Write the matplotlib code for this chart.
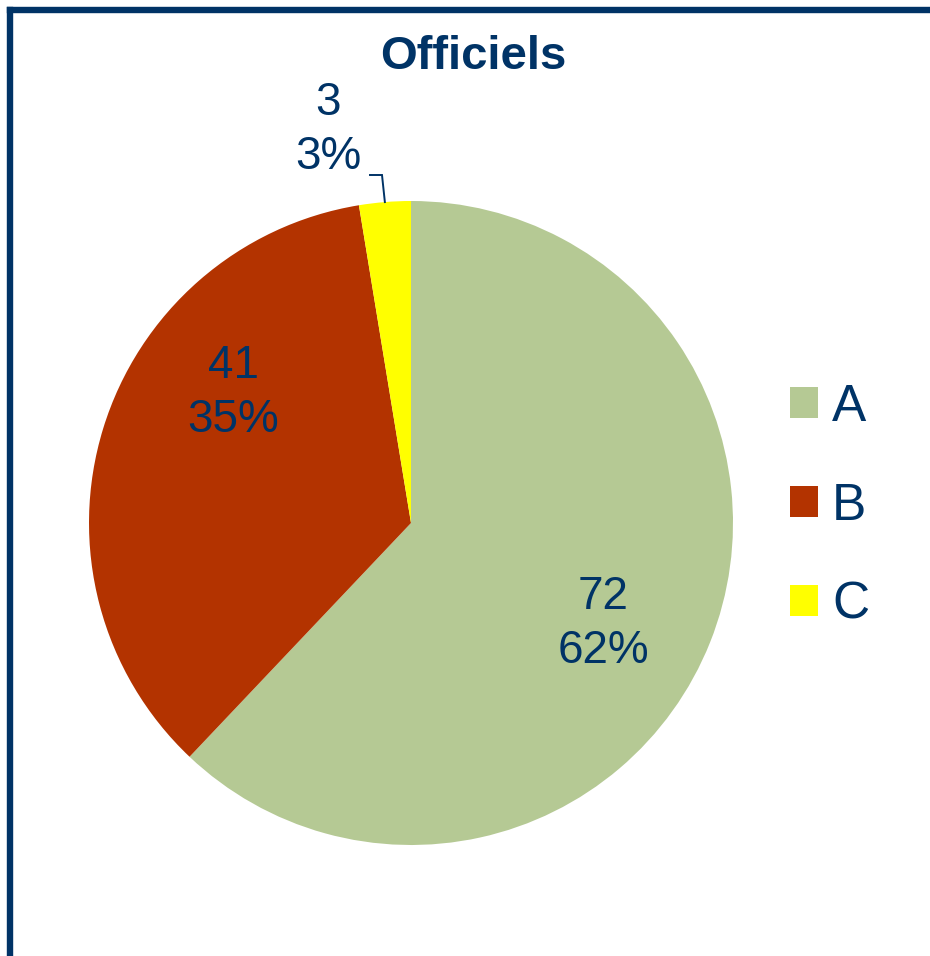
import matplotlib.pyplot as plt
import numpy as np
from matplotlib.lines import Line2D

plt.rcParams['font.family'] = ['Liberation Sans', 'DejaVu Sans']

title = 'Officiels'
categories = ['A', 'B', 'C']
values = [72, 41, 3]
colors = ['#b5c994', '#b33300', '#ffff00']
navy = '#003366'

W, H = 930, 956
fig = plt.figure(figsize=(W / 100, H / 100), dpi=100)
ax = fig.add_axes([0, 0, 1, 1])

cx, cy, r = 411, H - 523, 322
wedges, _ = ax.pie(values, colors=colors, startangle=90, counterclock=False,
                   radius=r, center=(cx, cy), wedgeprops=dict(linewidth=0))
ax.set_xlim(0, W)
ax.set_ylim(0, H)
ax.set_aspect('equal')
ax.set_axis_off()

total = sum(values)
# label placement: (x, y) in pixels from top-left, as Excel put them
label_pos = [(603, 624), (233, 393), (328, 130)]
for v, (lx, ly) in zip(values, label_pos):
    ax.text(lx, H - ly, '%d\n%d%%' % (v, round(100 * v / total)),
            ha='center', va='center', fontsize=33, color=navy, linespacing=1.32)

# leader line for the small slice
w = wedges[2]
mid = np.deg2rad((w.theta1 + w.theta2) / 2)
ex, ey = cx + r * np.cos(mid), cy + r * np.sin(mid)
ax.plot([370, 382, ex], [H - 175, H - 175, ey], color=navy, lw=1.4,
        solid_joinstyle='miter')

ax.text(473, H - 57, title, ha='center', va='center', fontsize=34,
        fontweight='bold', color=navy)

leg = ax.legend(wedges, categories, loc='center left',
                bbox_to_anchor=(790 / W, (H - 506) / H),
                bbox_transform=fig.transFigure, frameon=False,
                fontsize=37, labelcolor=navy, borderpad=0, borderaxespad=0,
                handlelength=0.55, handleheight=0.55, handletextpad=0.27,
                labelspacing=0.97)

# chart-area border (left and top)
fig.add_artist(Line2D([9.5 / W, 9.5 / W], [0, 1 - 9.5 / H], color=navy,
                      lw=4.6, solid_capstyle='projecting', transform=fig.transFigure))
fig.add_artist(Line2D([9.5 / W, 1], [1 - 9.5 / H, 1 - 9.5 / H], color=navy,
                      lw=4.6, solid_capstyle='projecting', transform=fig.transFigure))

fig.savefig('out.png', dpi=100)
